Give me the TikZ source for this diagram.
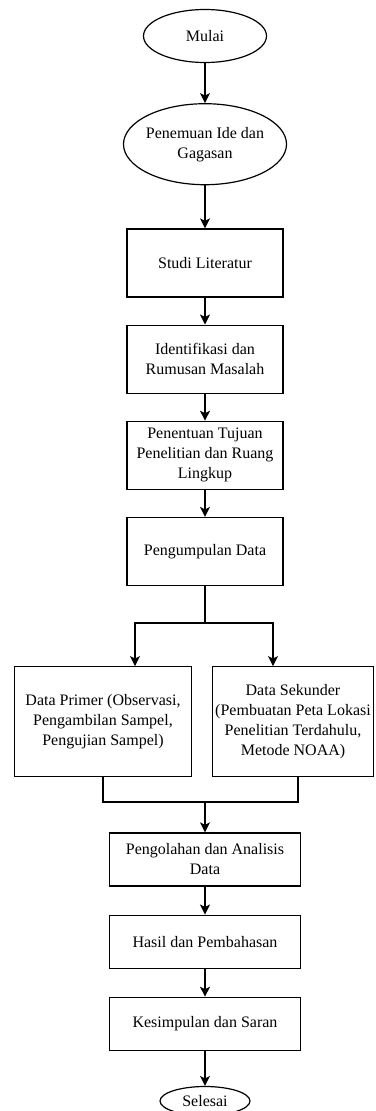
\documentclass[tikz,border=0pt]{standalone}
\usepackage{fontspec}
\setmainfont{Liberation Serif}
\usetikzlibrary{arrows.meta,positioning,shapes.geometric}
\tikzset{
  >=Stealth,
  terminal/.style={ellipse, draw, line width=1.2pt, inner xsep=-4pt, inner ysep=0pt, align=center},
  block/.style={rectangle, draw, line width=1.2pt, inner sep=0pt, align=center, minimum width=156pt, minimum height=68pt},
  arrow/.style={-{Stealth[length=10pt,width=10pt,inset=2.5pt]}, line width=1.2pt},
  line/.style={line width=1.2pt}
}

\begin{document}
\begin{tikzpicture}[node distance=27pt, font=\fontsize{16pt}{20pt}\selectfont]
  \useasboundingbox (0,0) rectangle (375pt,-1111pt);

  \node[terminal, minimum width=123pt, minimum height=53pt] (mulai) at (205pt,-36pt) {Mulai};
  \node[terminal, minimum width=163pt, minimum height=81pt, below=40pt of mulai] (ide) {Penemuan Ide dan\\Gagasan};
  \node[block, below=43pt of ide] (studi) {Studi Literatur};
  \node[block, below=of studi] (identifikasi) {Identifikasi dan\\Rumusan Masalah};
  \node[block, below=of identifikasi] (tujuan) {Penentuan Tujuan\\Penelitian dan Ruang\\Lingkup};
  \node[block, below=of tujuan] (kumpul) {Pengumpulan Data};
  \node[block, minimum width=177pt, minimum height=110pt, below=80pt of kumpul, xshift=-102pt] (primer) {Data Primer (Observasi,\\Pengambilan Sampel,\\Pengujian Sampel)};
  \node[block, minimum width=161pt, minimum height=110pt, below=80pt of kumpul, xshift=88pt] (sekunder) {Data Sekunder\\(Pembuatan Peta Lokasi\\Penelitian Terdahulu,\\Metode NOAA)};
  \node[block, minimum width=191pt, minimum height=53pt, below=55pt of primer, xshift=102pt] (olah) {Pengolahan dan Analisis\\Data};
  \node[block, minimum width=191pt, minimum height=53pt, below=28pt of olah] (hasil) {Hasil dan Pembahasan};
  \node[block, minimum width=191pt, minimum height=53pt, below=28pt of hasil] (simpulan) {Kesimpulan dan Saran};
  \node[terminal, minimum width=90pt, minimum height=29pt, below=35pt of simpulan] (selesai) {Selesai};

  \coordinate (cabang) at (205pt,-623pt);
  \coordinate (gabung) at (205pt,-802pt);

  \draw[arrow] (mulai) -- (ide);
  \draw[arrow] (ide) -- (studi);
  \draw[arrow] (studi) -- (identifikasi);
  \draw[arrow] (identifikasi) -- (tujuan);
  \draw[arrow] (tujuan) -- (kumpul);
  \draw[line] (kumpul) -- (cabang);
  \draw[arrow] (cabang) -| ([xshift=32pt]primer.north);
  \draw[arrow] (cabang) -| ([xshift=-20pt]sekunder.north);
  \draw[line] (primer.south) |- (gabung) -| ([xshift=5pt]sekunder.south);
  \draw[arrow] (gabung) -- (olah);
  \draw[arrow] (olah) -- (hasil);
  \draw[arrow] (hasil) -- (simpulan);
  \draw[arrow] (simpulan) -- (selesai);
\end{tikzpicture}
\end{document}
